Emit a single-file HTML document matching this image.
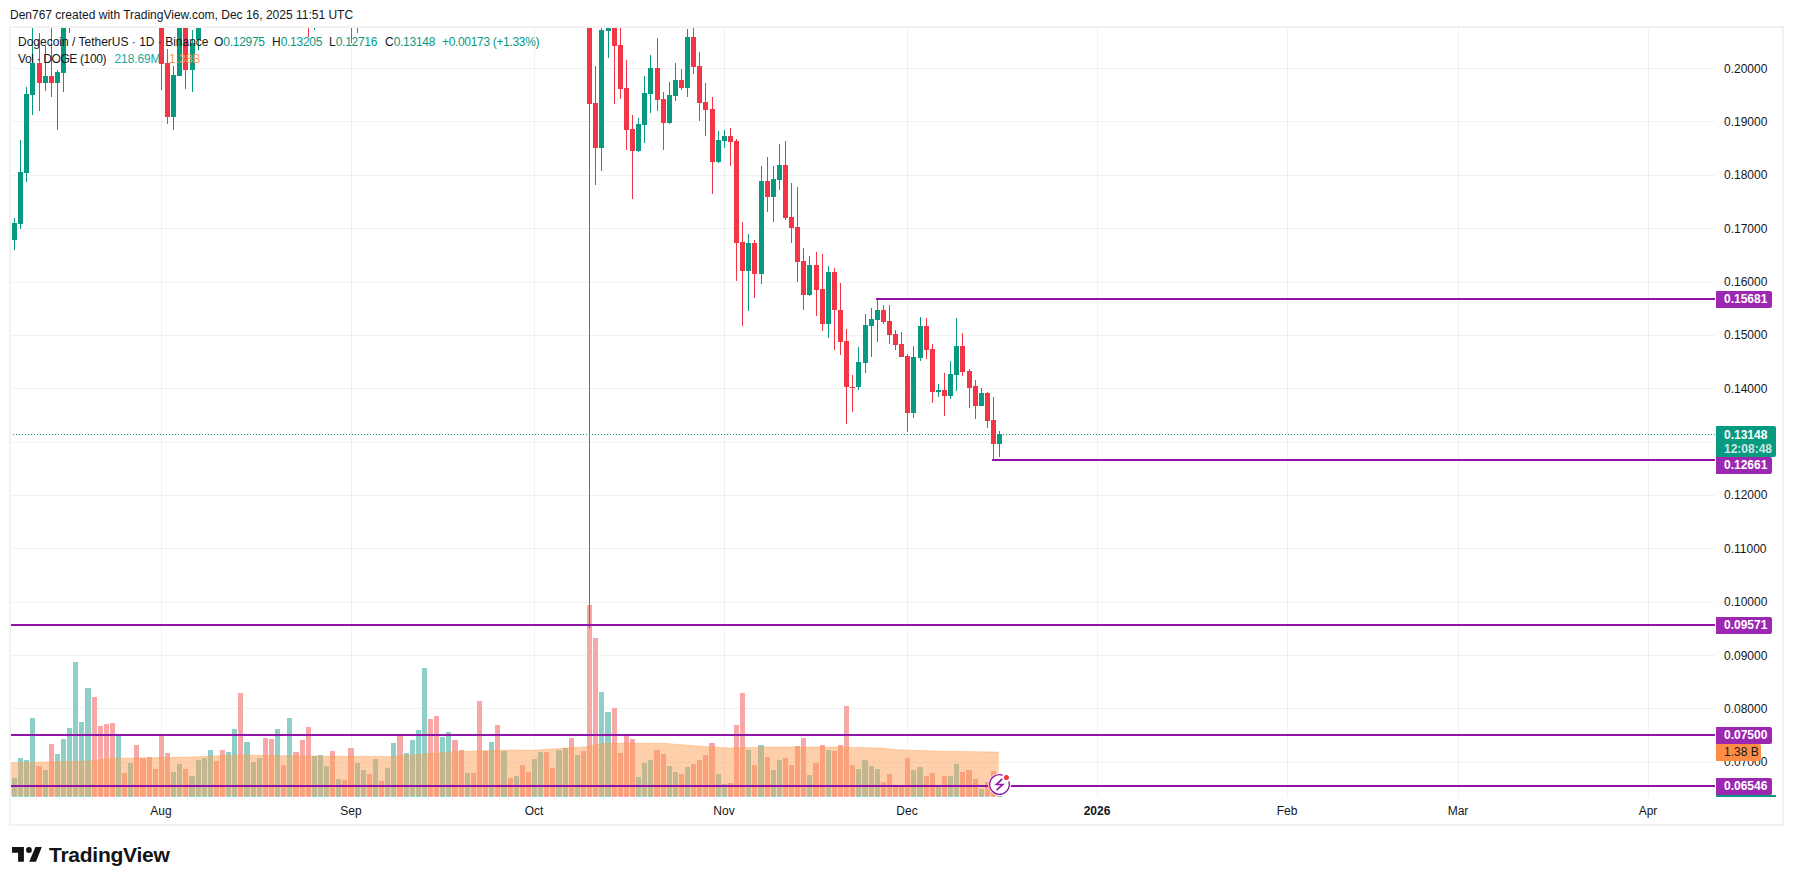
<!DOCTYPE html>
<html><head><meta charset="utf-8">
<style>
html,body{margin:0;padding:0;background:#fff;}
body{width:1793px;height:885px;position:relative;overflow:hidden;font-family:"Liberation Sans",sans-serif;color:#131722;}
svg{position:absolute;left:0;top:0;}
.t{position:absolute;white-space:nowrap;font-size:12px;line-height:15px;}
.ax{position:absolute;left:1724px;font-size:12px;line-height:15px;white-space:nowrap;color:#131722;}
.lab{position:absolute;left:1716px;color:#fff;font-weight:bold;font-size:12px;line-height:17px;white-space:nowrap;border-radius:0 2px 2px 0;}
.lab span{position:absolute;left:8px;}
.tm{position:absolute;top:804px;font-size:12px;line-height:15px;white-space:nowrap;transform:translateX(-50%);}
.g{color:#089981}
</style></head><body>
<svg width="1793" height="885" viewBox="0 0 1793 885">
<defs><clipPath id="pane"><rect x="11" y="28" width="1704" height="769"/></clipPath></defs>
<rect x="161" y="28" width="1" height="769" fill="rgba(40,60,60,0.065)"/>
<rect x="351" y="28" width="1" height="769" fill="rgba(40,60,60,0.065)"/>
<rect x="534" y="28" width="1" height="769" fill="rgba(40,60,60,0.065)"/>
<rect x="724" y="28" width="1" height="769" fill="rgba(40,60,60,0.065)"/>
<rect x="907" y="28" width="1" height="769" fill="rgba(40,60,60,0.065)"/>
<rect x="1097" y="28" width="1" height="769" fill="rgba(40,60,60,0.065)"/>
<rect x="1287" y="28" width="1" height="769" fill="rgba(40,60,60,0.065)"/>
<rect x="1458" y="28" width="1" height="769" fill="rgba(40,60,60,0.065)"/>
<rect x="1648" y="28" width="1" height="769" fill="rgba(40,60,60,0.065)"/>
<rect x="11" y="68" width="1704" height="1" fill="rgba(40,60,60,0.065)"/>
<rect x="11" y="121" width="1704" height="1" fill="rgba(40,60,60,0.065)"/>
<rect x="11" y="175" width="1704" height="1" fill="rgba(40,60,60,0.065)"/>
<rect x="11" y="228" width="1704" height="1" fill="rgba(40,60,60,0.065)"/>
<rect x="11" y="282" width="1704" height="1" fill="rgba(40,60,60,0.065)"/>
<rect x="11" y="335" width="1704" height="1" fill="rgba(40,60,60,0.065)"/>
<rect x="11" y="388" width="1704" height="1" fill="rgba(40,60,60,0.065)"/>
<rect x="11" y="442" width="1704" height="1" fill="rgba(40,60,60,0.065)"/>
<rect x="11" y="495" width="1704" height="1" fill="rgba(40,60,60,0.065)"/>
<rect x="11" y="548" width="1704" height="1" fill="rgba(40,60,60,0.065)"/>
<rect x="11" y="602" width="1704" height="1" fill="rgba(40,60,60,0.065)"/>
<rect x="11" y="655" width="1704" height="1" fill="rgba(40,60,60,0.065)"/>
<rect x="11" y="708" width="1704" height="1" fill="rgba(40,60,60,0.065)"/>
<rect x="11" y="762" width="1704" height="1" fill="rgba(40,60,60,0.065)"/>
<rect x="12" y="778" width="5" height="19" fill="rgb(142,208,200)"/>
<rect x="18" y="758" width="5" height="39" fill="rgb(142,208,200)"/>
<rect x="24" y="760" width="5" height="37" fill="rgb(142,208,200)"/>
<rect x="30" y="718" width="5" height="79" fill="rgb(142,208,200)"/>
<rect x="36" y="766" width="6" height="31" fill="rgb(247,168,166)"/>
<rect x="43" y="770" width="5" height="27" fill="rgb(142,208,200)"/>
<rect x="49" y="744" width="5" height="53" fill="rgb(247,168,166)"/>
<rect x="55" y="754" width="5" height="43" fill="rgb(142,208,200)"/>
<rect x="61" y="739" width="5" height="58" fill="rgb(142,208,200)"/>
<rect x="67" y="728" width="5" height="69" fill="rgb(142,208,200)"/>
<rect x="73" y="662" width="5" height="135" fill="rgb(142,208,200)"/>
<rect x="79" y="722" width="5" height="75" fill="rgb(142,208,200)"/>
<rect x="85" y="688" width="6" height="109" fill="rgb(142,208,200)"/>
<rect x="92" y="697" width="5" height="100" fill="rgb(247,168,166)"/>
<rect x="98" y="726" width="5" height="71" fill="rgb(247,168,166)"/>
<rect x="104" y="724" width="5" height="73" fill="rgb(247,168,166)"/>
<rect x="110" y="723" width="5" height="74" fill="rgb(247,168,166)"/>
<rect x="116" y="736" width="5" height="61" fill="rgb(142,208,200)"/>
<rect x="122" y="773" width="5" height="24" fill="rgb(247,168,166)"/>
<rect x="128" y="763" width="5" height="34" fill="rgb(142,208,200)"/>
<rect x="134" y="745" width="5" height="52" fill="rgb(247,168,166)"/>
<rect x="140" y="758" width="6" height="39" fill="rgb(247,168,166)"/>
<rect x="147" y="757" width="5" height="40" fill="rgb(247,168,166)"/>
<rect x="153" y="769" width="5" height="28" fill="rgb(247,168,166)"/>
<rect x="159" y="736" width="5" height="61" fill="rgb(247,168,166)"/>
<rect x="165" y="753" width="5" height="44" fill="rgb(247,168,166)"/>
<rect x="171" y="772" width="5" height="25" fill="rgb(142,208,200)"/>
<rect x="177" y="764" width="5" height="33" fill="rgb(142,208,200)"/>
<rect x="183" y="769" width="5" height="28" fill="rgb(247,168,166)"/>
<rect x="189" y="776" width="6" height="21" fill="rgb(142,208,200)"/>
<rect x="196" y="760" width="5" height="37" fill="rgb(142,208,200)"/>
<rect x="202" y="758" width="5" height="39" fill="rgb(142,208,200)"/>
<rect x="208" y="750" width="5" height="47" fill="rgb(142,208,200)"/>
<rect x="214" y="761" width="5" height="36" fill="rgb(247,168,166)"/>
<rect x="220" y="750" width="5" height="47" fill="rgb(247,168,166)"/>
<rect x="226" y="752" width="5" height="45" fill="rgb(142,208,200)"/>
<rect x="232" y="729" width="5" height="68" fill="rgb(142,208,200)"/>
<rect x="238" y="693" width="5" height="104" fill="rgb(247,168,166)"/>
<rect x="244" y="742" width="6" height="55" fill="rgb(142,208,200)"/>
<rect x="251" y="762" width="5" height="35" fill="rgb(142,208,200)"/>
<rect x="257" y="758" width="5" height="39" fill="rgb(142,208,200)"/>
<rect x="263" y="738" width="5" height="59" fill="rgb(247,168,166)"/>
<rect x="269" y="739" width="5" height="58" fill="rgb(247,168,166)"/>
<rect x="275" y="729" width="5" height="68" fill="rgb(142,208,200)"/>
<rect x="281" y="765" width="5" height="32" fill="rgb(247,168,166)"/>
<rect x="287" y="718" width="5" height="79" fill="rgb(142,208,200)"/>
<rect x="293" y="752" width="6" height="45" fill="rgb(247,168,166)"/>
<rect x="300" y="740" width="5" height="57" fill="rgb(247,168,166)"/>
<rect x="306" y="727" width="5" height="70" fill="rgb(247,168,166)"/>
<rect x="312" y="756" width="5" height="41" fill="rgb(142,208,200)"/>
<rect x="318" y="755" width="5" height="42" fill="rgb(142,208,200)"/>
<rect x="324" y="766" width="5" height="31" fill="rgb(142,208,200)"/>
<rect x="330" y="751" width="5" height="46" fill="rgb(247,168,166)"/>
<rect x="336" y="779" width="5" height="18" fill="rgb(142,208,200)"/>
<rect x="342" y="780" width="5" height="17" fill="rgb(247,168,166)"/>
<rect x="348" y="748" width="6" height="49" fill="rgb(247,168,166)"/>
<rect x="355" y="763" width="5" height="34" fill="rgb(142,208,200)"/>
<rect x="361" y="770" width="5" height="27" fill="rgb(142,208,200)"/>
<rect x="367" y="774" width="5" height="23" fill="rgb(247,168,166)"/>
<rect x="373" y="759" width="5" height="38" fill="rgb(142,208,200)"/>
<rect x="379" y="781" width="5" height="16" fill="rgb(247,168,166)"/>
<rect x="385" y="768" width="5" height="29" fill="rgb(142,208,200)"/>
<rect x="391" y="743" width="5" height="54" fill="rgb(142,208,200)"/>
<rect x="397" y="736" width="6" height="61" fill="rgb(247,168,166)"/>
<rect x="404" y="753" width="5" height="44" fill="rgb(142,208,200)"/>
<rect x="410" y="740" width="5" height="57" fill="rgb(142,208,200)"/>
<rect x="416" y="730" width="5" height="67" fill="rgb(142,208,200)"/>
<rect x="422" y="668" width="5" height="129" fill="rgb(142,208,200)"/>
<rect x="428" y="719" width="5" height="78" fill="rgb(247,168,166)"/>
<rect x="434" y="716" width="5" height="81" fill="rgb(247,168,166)"/>
<rect x="440" y="737" width="5" height="60" fill="rgb(142,208,200)"/>
<rect x="446" y="732" width="5" height="65" fill="rgb(142,208,200)"/>
<rect x="452" y="740" width="6" height="57" fill="rgb(247,168,166)"/>
<rect x="459" y="750" width="5" height="47" fill="rgb(247,168,166)"/>
<rect x="465" y="773" width="5" height="24" fill="rgb(142,208,200)"/>
<rect x="471" y="773" width="5" height="24" fill="rgb(247,168,166)"/>
<rect x="477" y="701" width="5" height="96" fill="rgb(247,168,166)"/>
<rect x="483" y="751" width="5" height="46" fill="rgb(247,168,166)"/>
<rect x="489" y="742" width="5" height="55" fill="rgb(142,208,200)"/>
<rect x="495" y="725" width="5" height="72" fill="rgb(247,168,166)"/>
<rect x="501" y="751" width="6" height="46" fill="rgb(142,208,200)"/>
<rect x="508" y="778" width="5" height="19" fill="rgb(247,168,166)"/>
<rect x="514" y="776" width="5" height="21" fill="rgb(142,208,200)"/>
<rect x="520" y="765" width="5" height="32" fill="rgb(247,168,166)"/>
<rect x="526" y="772" width="5" height="25" fill="rgb(247,168,166)"/>
<rect x="532" y="759" width="5" height="38" fill="rgb(142,208,200)"/>
<rect x="538" y="752" width="5" height="45" fill="rgb(142,208,200)"/>
<rect x="544" y="752" width="5" height="45" fill="rgb(247,168,166)"/>
<rect x="550" y="768" width="5" height="29" fill="rgb(247,168,166)"/>
<rect x="556" y="750" width="6" height="47" fill="rgb(142,208,200)"/>
<rect x="563" y="748" width="5" height="49" fill="rgb(142,208,200)"/>
<rect x="569" y="738" width="5" height="59" fill="rgb(247,168,166)"/>
<rect x="575" y="755" width="5" height="42" fill="rgb(142,208,200)"/>
<rect x="581" y="751" width="5" height="46" fill="rgb(247,168,166)"/>
<rect x="587" y="605" width="5" height="192" fill="rgb(247,168,166)"/>
<rect x="593" y="638" width="5" height="159" fill="rgb(247,168,166)"/>
<rect x="599" y="692" width="5" height="105" fill="rgb(142,208,200)"/>
<rect x="605" y="712" width="6" height="85" fill="rgb(142,208,200)"/>
<rect x="612" y="708" width="5" height="89" fill="rgb(247,168,166)"/>
<rect x="618" y="753" width="5" height="44" fill="rgb(247,168,166)"/>
<rect x="624" y="736" width="5" height="61" fill="rgb(247,168,166)"/>
<rect x="630" y="739" width="5" height="58" fill="rgb(247,168,166)"/>
<rect x="636" y="777" width="5" height="20" fill="rgb(142,208,200)"/>
<rect x="642" y="763" width="5" height="34" fill="rgb(142,208,200)"/>
<rect x="648" y="760" width="5" height="37" fill="rgb(142,208,200)"/>
<rect x="654" y="750" width="6" height="47" fill="rgb(247,168,166)"/>
<rect x="661" y="754" width="5" height="43" fill="rgb(247,168,166)"/>
<rect x="667" y="766" width="5" height="31" fill="rgb(142,208,200)"/>
<rect x="673" y="772" width="5" height="25" fill="rgb(142,208,200)"/>
<rect x="679" y="774" width="5" height="23" fill="rgb(247,168,166)"/>
<rect x="685" y="767" width="5" height="30" fill="rgb(142,208,200)"/>
<rect x="691" y="764" width="5" height="33" fill="rgb(247,168,166)"/>
<rect x="697" y="760" width="5" height="37" fill="rgb(247,168,166)"/>
<rect x="703" y="755" width="5" height="42" fill="rgb(247,168,166)"/>
<rect x="709" y="743" width="6" height="54" fill="rgb(247,168,166)"/>
<rect x="716" y="774" width="5" height="23" fill="rgb(142,208,200)"/>
<rect x="722" y="784" width="5" height="13" fill="rgb(142,208,200)"/>
<rect x="728" y="783" width="5" height="14" fill="rgb(247,168,166)"/>
<rect x="734" y="725" width="5" height="72" fill="rgb(247,168,166)"/>
<rect x="740" y="693" width="5" height="104" fill="rgb(247,168,166)"/>
<rect x="746" y="750" width="5" height="47" fill="rgb(142,208,200)"/>
<rect x="752" y="765" width="5" height="32" fill="rgb(247,168,166)"/>
<rect x="758" y="745" width="6" height="52" fill="rgb(142,208,200)"/>
<rect x="765" y="757" width="5" height="40" fill="rgb(247,168,166)"/>
<rect x="771" y="770" width="5" height="27" fill="rgb(142,208,200)"/>
<rect x="777" y="760" width="5" height="37" fill="rgb(142,208,200)"/>
<rect x="783" y="758" width="5" height="39" fill="rgb(247,168,166)"/>
<rect x="789" y="765" width="5" height="32" fill="rgb(247,168,166)"/>
<rect x="795" y="746" width="5" height="51" fill="rgb(247,168,166)"/>
<rect x="801" y="738" width="5" height="59" fill="rgb(247,168,166)"/>
<rect x="807" y="775" width="5" height="22" fill="rgb(142,208,200)"/>
<rect x="813" y="763" width="6" height="34" fill="rgb(247,168,166)"/>
<rect x="820" y="745" width="5" height="52" fill="rgb(247,168,166)"/>
<rect x="826" y="750" width="5" height="47" fill="rgb(142,208,200)"/>
<rect x="832" y="751" width="5" height="46" fill="rgb(247,168,166)"/>
<rect x="838" y="745" width="5" height="52" fill="rgb(247,168,166)"/>
<rect x="844" y="706" width="5" height="91" fill="rgb(247,168,166)"/>
<rect x="850" y="765" width="5" height="32" fill="rgb(247,168,166)"/>
<rect x="856" y="769" width="5" height="28" fill="rgb(142,208,200)"/>
<rect x="862" y="760" width="6" height="37" fill="rgb(142,208,200)"/>
<rect x="869" y="766" width="5" height="31" fill="rgb(142,208,200)"/>
<rect x="875" y="769" width="5" height="28" fill="rgb(142,208,200)"/>
<rect x="881" y="782" width="5" height="15" fill="rgb(247,168,166)"/>
<rect x="887" y="774" width="5" height="23" fill="rgb(247,168,166)"/>
<rect x="893" y="787" width="5" height="10" fill="rgb(247,168,166)"/>
<rect x="899" y="787" width="5" height="10" fill="rgb(247,168,166)"/>
<rect x="905" y="758" width="5" height="39" fill="rgb(247,168,166)"/>
<rect x="911" y="770" width="5" height="27" fill="rgb(142,208,200)"/>
<rect x="917" y="767" width="6" height="30" fill="rgb(142,208,200)"/>
<rect x="924" y="776" width="5" height="21" fill="rgb(247,168,166)"/>
<rect x="930" y="773" width="5" height="24" fill="rgb(247,168,166)"/>
<rect x="936" y="787" width="5" height="10" fill="rgb(142,208,200)"/>
<rect x="942" y="776" width="5" height="21" fill="rgb(247,168,166)"/>
<rect x="948" y="776" width="5" height="21" fill="rgb(142,208,200)"/>
<rect x="954" y="764" width="5" height="33" fill="rgb(142,208,200)"/>
<rect x="960" y="772" width="5" height="25" fill="rgb(247,168,166)"/>
<rect x="966" y="770" width="6" height="27" fill="rgb(247,168,166)"/>
<rect x="973" y="779" width="5" height="18" fill="rgb(247,168,166)"/>
<rect x="979" y="789" width="5" height="8" fill="rgb(142,208,200)"/>
<rect x="985" y="782" width="5" height="15" fill="rgb(247,168,166)"/>
<rect x="991" y="771" width="5" height="26" fill="rgb(247,168,166)"/>
<rect x="997" y="796" width="5" height="1" fill="rgb(142,208,200)"/>
<polygon points="11,796 11,762.7 91,761 110,758.5 188,757.1 239,755 300,756 349.5,756.3 391,756.4 453.7,751.7 504.5,750 532,750.3 586.5,746.7 605,743.3 663,743.3 704,746.5 728.8,748 767.8,747.1 835.6,747 880,748 899,749.8 939.8,751.2 998.8,752.1 998.8,796" fill="rgba(251,157,79,0.48)"/>
<polyline points="11,762.7 91,761 110,758.5 188,757.1 239,755 300,756 349.5,756.3 391,756.4 453.7,751.7 504.5,750 532,750.3 586.5,746.7 605,743.3 663,743.3 704,746.5 728.8,748 767.8,747.1 835.6,747 880,748 899,749.8 939.8,751.2 998.8,752.1" fill="none" stroke="rgba(251,150,70,0.35)" stroke-width="1"/>
<line x1="10" y1="434.5" x2="1715" y2="434.5" stroke="#089981" stroke-width="1" stroke-dasharray="1 2"/>
<g clip-path="url(#pane)">
<rect x="14" y="218" width="1" height="32" fill="#089981"/>
<rect x="12" y="223" width="5" height="17" fill="#089981"/>
<rect x="20" y="140" width="1" height="89" fill="#089981"/>
<rect x="18" y="172" width="5" height="52" fill="#089981"/>
<rect x="26" y="87" width="1" height="95" fill="#089981"/>
<rect x="24" y="94" width="5" height="79" fill="#089981"/>
<rect x="32" y="20" width="1" height="95" fill="#089981"/>
<rect x="30" y="63" width="5" height="32" fill="#089981"/>
<rect x="39" y="33" width="1" height="78" fill="#f23645"/>
<rect x="37" y="63" width="5" height="20" fill="#f23645"/>
<rect x="45" y="46" width="1" height="45" fill="#089981"/>
<rect x="43" y="76" width="5" height="7" fill="#089981"/>
<rect x="51" y="20" width="1" height="77" fill="#f23645"/>
<rect x="49" y="76" width="5" height="7" fill="#f23645"/>
<rect x="57" y="70" width="1" height="60" fill="#089981"/>
<rect x="55" y="72" width="5" height="11" fill="#089981"/>
<rect x="63" y="20" width="1" height="72" fill="#089981"/>
<rect x="61" y="20" width="5" height="53" fill="#089981"/>
<rect x="69" y="20" width="1" height="13" fill="#089981"/>
<rect x="161" y="20" width="1" height="70" fill="#f23645"/>
<rect x="159" y="20" width="5" height="44" fill="#f23645"/>
<rect x="167" y="49" width="1" height="75" fill="#f23645"/>
<rect x="165" y="63" width="5" height="54" fill="#f23645"/>
<rect x="173" y="66" width="1" height="64" fill="#089981"/>
<rect x="171" y="75" width="5" height="42" fill="#089981"/>
<rect x="179" y="20" width="1" height="56" fill="#089981"/>
<rect x="177" y="20" width="5" height="56" fill="#089981"/>
<rect x="185" y="20" width="1" height="69" fill="#f23645"/>
<rect x="183" y="20" width="5" height="50" fill="#f23645"/>
<rect x="192" y="30" width="1" height="62" fill="#089981"/>
<rect x="190" y="43" width="5" height="27" fill="#089981"/>
<rect x="198" y="20" width="1" height="30" fill="#089981"/>
<rect x="196" y="20" width="5" height="20" fill="#089981"/>
<rect x="277" y="20" width="1" height="8" fill="#089981"/>
<rect x="308" y="20" width="1" height="17" fill="#f23645"/>
<rect x="314" y="20" width="1" height="10" fill="#089981"/>
<rect x="351" y="20" width="1" height="23" fill="#f23645"/>
<rect x="357" y="20" width="1" height="13" fill="#089981"/>
<rect x="589" y="20" width="1" height="608" fill="#f23645"/>
<rect x="587" y="20" width="5" height="84" fill="#f23645"/>
<rect x="595" y="66" width="1" height="119" fill="#f23645"/>
<rect x="593" y="103" width="5" height="45" fill="#f23645"/>
<rect x="601" y="27" width="1" height="144" fill="#089981"/>
<rect x="599" y="30" width="5" height="118" fill="#089981"/>
<rect x="608" y="20" width="1" height="38" fill="#089981"/>
<rect x="606" y="20" width="5" height="11" fill="#089981"/>
<rect x="614" y="20" width="1" height="84" fill="#f23645"/>
<rect x="612" y="20" width="5" height="26" fill="#f23645"/>
<rect x="620" y="20" width="1" height="79" fill="#f23645"/>
<rect x="618" y="45" width="5" height="44" fill="#f23645"/>
<rect x="626" y="60" width="1" height="90" fill="#f23645"/>
<rect x="624" y="88" width="5" height="42" fill="#f23645"/>
<rect x="632" y="115" width="1" height="84" fill="#f23645"/>
<rect x="630" y="129" width="5" height="22" fill="#f23645"/>
<rect x="638" y="118" width="1" height="34" fill="#089981"/>
<rect x="636" y="124" width="5" height="27" fill="#089981"/>
<rect x="644" y="76" width="1" height="67" fill="#089981"/>
<rect x="642" y="93" width="5" height="32" fill="#089981"/>
<rect x="650" y="55" width="1" height="58" fill="#089981"/>
<rect x="648" y="68" width="5" height="26" fill="#089981"/>
<rect x="657" y="38" width="1" height="73" fill="#f23645"/>
<rect x="655" y="68" width="5" height="32" fill="#f23645"/>
<rect x="663" y="92" width="1" height="58" fill="#f23645"/>
<rect x="661" y="99" width="5" height="24" fill="#f23645"/>
<rect x="669" y="82" width="1" height="42" fill="#089981"/>
<rect x="667" y="95" width="5" height="28" fill="#089981"/>
<rect x="675" y="63" width="1" height="38" fill="#089981"/>
<rect x="673" y="80" width="5" height="16" fill="#089981"/>
<rect x="681" y="69" width="1" height="21" fill="#f23645"/>
<rect x="679" y="80" width="5" height="8" fill="#f23645"/>
<rect x="687" y="29" width="1" height="68" fill="#089981"/>
<rect x="685" y="37" width="5" height="51" fill="#089981"/>
<rect x="693" y="20" width="1" height="54" fill="#f23645"/>
<rect x="691" y="37" width="5" height="30" fill="#f23645"/>
<rect x="699" y="52" width="1" height="69" fill="#f23645"/>
<rect x="697" y="66" width="5" height="37" fill="#f23645"/>
<rect x="705" y="83" width="1" height="53" fill="#f23645"/>
<rect x="703" y="102" width="5" height="8" fill="#f23645"/>
<rect x="712" y="97" width="1" height="97" fill="#f23645"/>
<rect x="710" y="109" width="5" height="53" fill="#f23645"/>
<rect x="718" y="131" width="1" height="32" fill="#089981"/>
<rect x="716" y="140" width="5" height="22" fill="#089981"/>
<rect x="724" y="130" width="1" height="18" fill="#089981"/>
<rect x="722" y="136" width="5" height="5" fill="#089981"/>
<rect x="730" y="128" width="1" height="38" fill="#f23645"/>
<rect x="728" y="136" width="5" height="6" fill="#f23645"/>
<rect x="736" y="139" width="1" height="142" fill="#f23645"/>
<rect x="734" y="141" width="5" height="102" fill="#f23645"/>
<rect x="742" y="222" width="1" height="104" fill="#f23645"/>
<rect x="740" y="242" width="5" height="29" fill="#f23645"/>
<rect x="748" y="234" width="1" height="77" fill="#089981"/>
<rect x="746" y="243" width="5" height="28" fill="#089981"/>
<rect x="754" y="240" width="1" height="58" fill="#f23645"/>
<rect x="752" y="243" width="5" height="31" fill="#f23645"/>
<rect x="761" y="166" width="1" height="118" fill="#089981"/>
<rect x="759" y="181" width="5" height="93" fill="#089981"/>
<rect x="767" y="157" width="1" height="55" fill="#f23645"/>
<rect x="765" y="181" width="5" height="16" fill="#f23645"/>
<rect x="773" y="166" width="1" height="56" fill="#089981"/>
<rect x="771" y="179" width="5" height="18" fill="#089981"/>
<rect x="779" y="144" width="1" height="46" fill="#089981"/>
<rect x="777" y="165" width="5" height="15" fill="#089981"/>
<rect x="785" y="141" width="1" height="79" fill="#f23645"/>
<rect x="783" y="165" width="5" height="53" fill="#f23645"/>
<rect x="791" y="183" width="1" height="60" fill="#f23645"/>
<rect x="789" y="217" width="5" height="11" fill="#f23645"/>
<rect x="797" y="187" width="1" height="95" fill="#f23645"/>
<rect x="795" y="227" width="5" height="35" fill="#f23645"/>
<rect x="803" y="248" width="1" height="62" fill="#f23645"/>
<rect x="801" y="261" width="5" height="34" fill="#f23645"/>
<rect x="809" y="256" width="1" height="40" fill="#089981"/>
<rect x="807" y="265" width="5" height="30" fill="#089981"/>
<rect x="816" y="252" width="1" height="64" fill="#f23645"/>
<rect x="814" y="265" width="5" height="25" fill="#f23645"/>
<rect x="822" y="254" width="1" height="77" fill="#f23645"/>
<rect x="820" y="289" width="5" height="35" fill="#f23645"/>
<rect x="828" y="266" width="1" height="72" fill="#089981"/>
<rect x="826" y="272" width="5" height="52" fill="#089981"/>
<rect x="834" y="268" width="1" height="82" fill="#f23645"/>
<rect x="832" y="272" width="5" height="38" fill="#f23645"/>
<rect x="840" y="283" width="1" height="72" fill="#f23645"/>
<rect x="838" y="310" width="5" height="32" fill="#f23645"/>
<rect x="846" y="329" width="1" height="95" fill="#f23645"/>
<rect x="844" y="341" width="5" height="46" fill="#f23645"/>
<rect x="852" y="375" width="1" height="37" fill="#f23645"/>
<rect x="850" y="387" width="5" height="1" fill="#f23645"/>
<rect x="858" y="347" width="1" height="43" fill="#089981"/>
<rect x="856" y="362" width="5" height="25" fill="#089981"/>
<rect x="865" y="314" width="1" height="59" fill="#089981"/>
<rect x="863" y="325" width="5" height="38" fill="#089981"/>
<rect x="871" y="308" width="1" height="49" fill="#089981"/>
<rect x="869" y="319" width="5" height="7" fill="#089981"/>
<rect x="877" y="299" width="1" height="43" fill="#089981"/>
<rect x="875" y="310" width="5" height="10" fill="#089981"/>
<rect x="883" y="305" width="1" height="19" fill="#f23645"/>
<rect x="881" y="310" width="5" height="12" fill="#f23645"/>
<rect x="889" y="305" width="1" height="39" fill="#f23645"/>
<rect x="887" y="321" width="5" height="14" fill="#f23645"/>
<rect x="895" y="330" width="1" height="20" fill="#f23645"/>
<rect x="893" y="334" width="5" height="11" fill="#f23645"/>
<rect x="901" y="332" width="1" height="25" fill="#f23645"/>
<rect x="899" y="344" width="5" height="13" fill="#f23645"/>
<rect x="907" y="354" width="1" height="78" fill="#f23645"/>
<rect x="905" y="356" width="5" height="57" fill="#f23645"/>
<rect x="913" y="346" width="1" height="72" fill="#089981"/>
<rect x="911" y="357" width="5" height="56" fill="#089981"/>
<rect x="920" y="317" width="1" height="44" fill="#089981"/>
<rect x="918" y="326" width="5" height="32" fill="#089981"/>
<rect x="926" y="318" width="1" height="41" fill="#f23645"/>
<rect x="924" y="326" width="5" height="24" fill="#f23645"/>
<rect x="932" y="344" width="1" height="59" fill="#f23645"/>
<rect x="930" y="349" width="5" height="43" fill="#f23645"/>
<rect x="938" y="384" width="1" height="13" fill="#089981"/>
<rect x="936" y="390" width="5" height="2" fill="#089981"/>
<rect x="944" y="373" width="1" height="43" fill="#f23645"/>
<rect x="942" y="390" width="5" height="6" fill="#f23645"/>
<rect x="950" y="361" width="1" height="38" fill="#089981"/>
<rect x="948" y="374" width="5" height="22" fill="#089981"/>
<rect x="956" y="318" width="1" height="73" fill="#089981"/>
<rect x="954" y="346" width="5" height="29" fill="#089981"/>
<rect x="962" y="333" width="1" height="43" fill="#f23645"/>
<rect x="960" y="346" width="5" height="26" fill="#f23645"/>
<rect x="969" y="369" width="1" height="39" fill="#f23645"/>
<rect x="967" y="371" width="5" height="17" fill="#f23645"/>
<rect x="975" y="380" width="1" height="39" fill="#f23645"/>
<rect x="973" y="386" width="5" height="20" fill="#f23645"/>
<rect x="981" y="388" width="1" height="18" fill="#089981"/>
<rect x="979" y="393" width="5" height="13" fill="#089981"/>
<rect x="987" y="392" width="1" height="36" fill="#f23645"/>
<rect x="985" y="393" width="5" height="28" fill="#f23645"/>
<rect x="993" y="397" width="1" height="62" fill="#f23645"/>
<rect x="991" y="420" width="5" height="24" fill="#f23645"/>
<rect x="999" y="431" width="1" height="26" fill="#089981"/>
<rect x="997" y="434" width="5" height="10" fill="#089981"/>
</g>
<rect x="876" y="298" width="839" height="2" fill="#9013a8"/>
<rect x="992" y="459" width="723" height="2" fill="#9013a8"/>
<rect x="11" y="624" width="1704" height="2" fill="#9013a8"/>
<rect x="11" y="734" width="1704" height="2" fill="#9013a8"/>
<rect x="11" y="785" width="977" height="2" fill="#9013a8"/>
<rect x="1011" y="785" width="704" height="2" fill="#9013a8"/>
<circle cx="999.5" cy="784.5" r="11" fill="#fff"/>
<path d="M 1008.85 781.55 A 9.8 9.8 0 1 1 1002.69 775.23" fill="none" stroke="#9013a8" stroke-width="1.35"/>
<circle cx="1006.4" cy="777.5" r="2.5" fill="#f23645"/>
<polyline points="1001.8,779.3 996.4,784.5 1002.7,784.5 997.0,789.6" fill="none" stroke="#9013a8" stroke-width="1.6" stroke-linejoin="miter" stroke-linecap="round"/>
<rect x="9" y="26" width="1775" height="2" fill="#f2f2f2"/>
<rect x="9" y="824" width="1775" height="2" fill="#f2f2f2"/>
<rect x="9" y="26" width="2" height="800" fill="#f2f2f2"/>
<rect x="1782" y="26" width="2" height="800" fill="#f2f2f2"/>
</svg>
<div class="t" style="left:10px;top:8px;">Den767 created with TradingView.com, Dec 16, 2025 11:51 UTC</div>
<div class="t" style="left:18px;top:35px;">Dogecoin / TetherUS · 1D · Binance</div>
<div class="t" style="left:214px;top:35px;">O<span class="g" style="letter-spacing:-0.28px">0.12975</span></div>
<div class="t" style="left:272px;top:35px;">H<span class="g" style="letter-spacing:-0.28px">0.13205</span></div>
<div class="t" style="left:329px;top:35px;">L<span class="g" style="letter-spacing:-0.28px">0.12716</span></div>
<div class="t" style="left:385px;top:35px;">C<span class="g" style="letter-spacing:-0.28px">0.13148</span></div>
<div class="t g" style="left:442px;top:35px;letter-spacing:-0.33px">+0.00173 (+1.33%)</div>
<div class="t" style="left:18px;top:52px;letter-spacing:-0.37px">Vol · DOGE (100)</div>
<div class="t" style="left:114.5px;top:52px;color:#26a69a;letter-spacing:-0.1px">218.69M</div>
<div class="t" style="left:169px;top:52px;color:#ff9850;">1.38B</div>
<div class="ax" style="top:61.6px">0.20000</div><div class="ax" style="top:115.0px">0.19000</div><div class="ax" style="top:168.3px">0.18000</div><div class="ax" style="top:221.7px">0.17000</div><div class="ax" style="top:275.0px">0.16000</div><div class="ax" style="top:328.4px">0.15000</div><div class="ax" style="top:381.7px">0.14000</div><div class="ax" style="top:488.4px">0.12000</div><div class="ax" style="top:541.8px">0.11000</div><div class="ax" style="top:595.1px">0.10000</div><div class="ax" style="top:648.5px">0.09000</div><div class="ax" style="top:701.8px">0.08000</div><div class="ax" style="top:755.2px">0.07000</div>
<div class="tm" style="left:161px">Aug</div>
<div class="tm" style="left:351px">Sep</div>
<div class="tm" style="left:534px">Oct</div>
<div class="tm" style="left:724px">Nov</div>
<div class="tm" style="left:907px">Dec</div>
<div class="tm" style="left:1097px;font-weight:bold">2026</div>
<div class="tm" style="left:1287px">Feb</div>
<div class="tm" style="left:1458px">Mar</div>
<div class="tm" style="left:1648px">Apr</div>
<div class="lab" style="top:291px;width:56px;height:17px;background:#9c27b0;"><span>0.15681</span></div>
<div class="lab" style="top:426px;width:60px;height:31px;background:#089981;border-radius:0 2px 2px 0;"><span style="top:1px">0.13148</span><span style="top:15px;color:rgba(255,255,255,0.8)">12:08:48</span></div>
<div class="lab" style="top:457px;width:56px;height:17px;background:#9c27b0;"><span>0.12661</span></div>
<div class="lab" style="top:617px;width:56px;height:17px;background:#9c27b0;"><span>0.09571</span></div>
<div class="lab" style="top:727px;width:56px;height:17px;background:#9c27b0;"><span>0.07500</span></div>
<div class="lab" style="top:744px;width:45px;height:17px;background:#ff8c42;color:#131722;font-weight:normal;"><span>1.38 B</span></div>
<div class="lab" style="top:795px;width:60px;height:2px;background:#089981;border-radius:0"></div>
<div class="lab" style="top:778px;width:56px;height:17px;background:#9c27b0;"><span>0.06546</span></div>
<svg width="50" height="30" viewBox="0 0 50 30" style="left:0;top:840px">
<path d="M12 847 H23.9 V861.7 H18.1 V852.8 H12 Z" fill="#131313" transform="translate(0,-840)"/>
<circle cx="28.95" cy="10" r="2.9" fill="#131313"/>
<path d="M35.46 7.1 L41.8 7.1 L35.97 21.7 L29.19 21.7 Z" fill="#131313"/>
</svg>
<div class="t" style="left:49px;top:842px;font-size:21px;line-height:26px;font-weight:bold;color:#131313;letter-spacing:-0.25px;">TradingView</div>
</body></html>
